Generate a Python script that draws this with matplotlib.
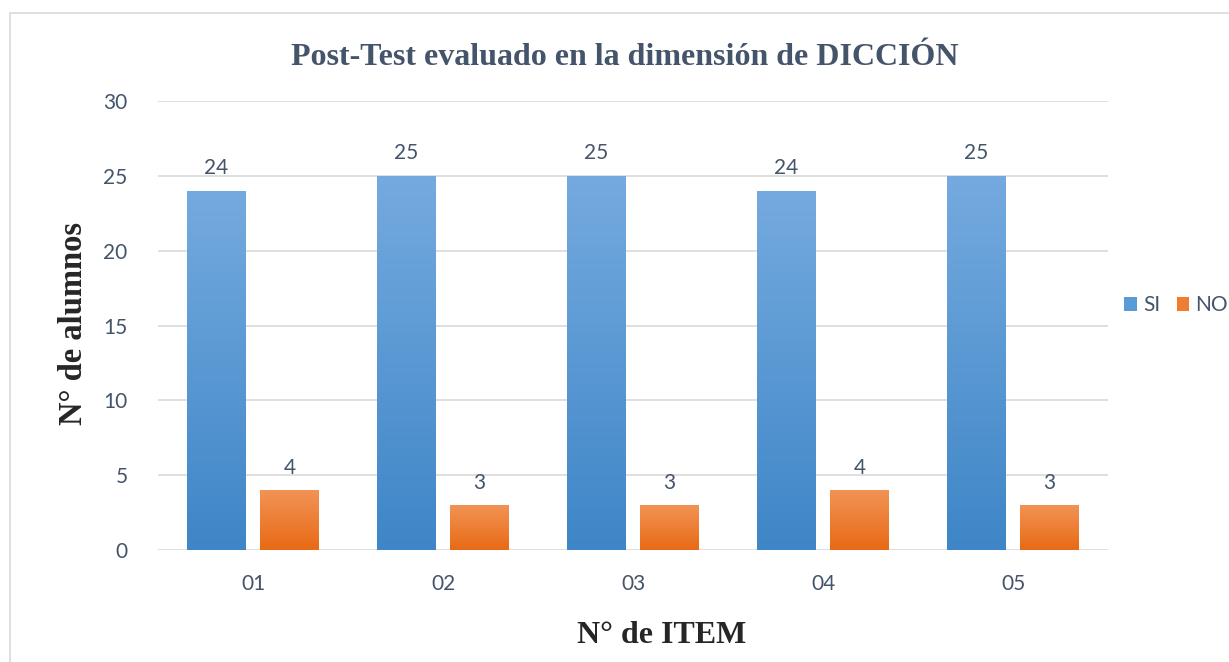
import numpy as np
import matplotlib.pyplot as plt
from matplotlib.colors import LinearSegmentedColormap
from matplotlib.patches import Rectangle

items = ['01', '02', '03', '04', '05']
si = [24, 25, 25, 24, 25]
no = [4, 3, 3, 4, 3]

text_col = '#44546A'
grid_col = '#D9D9D9'
blue_map = LinearSegmentedColormap.from_list('b', ['#3E86C7', '#75AADF'])
orange_map = LinearSegmentedColormap.from_list('o', ['#E86A15', '#F29355'])

plt.rcParams['font.family'] = ['Lato', 'DejaVu Sans']

fig = plt.figure(figsize=(12.29, 6.62), dpi=100)
ax = fig.add_axes([0.1286, 0.1692, 0.7730, 0.6782])

# thin border round the chart area
fig.patches.append(Rectangle((0.008, -0.01), 1.0, 0.99, transform=fig.transFigure,
                             fill=False, edgecolor='#D9D9D9', lw=1.2))

x = np.arange(len(items))
w = 0.31
off = 0.192


def grad_bars(xs, vals, cmap, col, label):
    bars = ax.bar(xs, vals, w, color=col, label=label, zorder=2)
    grad = np.linspace(0, 1, 256).reshape(-1, 1)
    for b in bars:
        im = ax.imshow(grad, cmap=cmap, origin='lower', aspect='auto',
                       extent=[b.get_x(), b.get_x() + b.get_width(), 0, b.get_height()],
                       zorder=3)
        im.set_clip_path(b)
    for xi, v in zip(xs, vals):
        ax.annotate(str(v), (xi, v), xytext=(0, 9), textcoords='offset points',
                    ha='center', va='bottom', fontsize=15, color=text_col)
    return bars


grad_bars(x - off, si, blue_map, '#5B9BD5', 'SI')
grad_bars(x + off, no, orange_map, '#ED7D31', 'NO')

ax.set_xlim(-0.5, 4.5)
ax.set_ylim(0, 30)
ax.set_yticks(range(0, 31, 5))
ax.set_xticks(x)
ax.set_xticklabels(items)
ax.tick_params(length=0, labelsize=15, colors=text_col)
ax.tick_params(axis='x', pad=17)
ax.tick_params(axis='y', pad=22)
ax.grid(axis='y', color=grid_col, lw=1.2, zorder=0)
ax.set_axisbelow(True)
for s in ax.spines.values():
    s.set_visible(False)

serif = ['Liberation Serif', 'DejaVu Serif']
ax.set_title('Post-Test evaluado en la dimensión de DICCIÓN', family=serif,
             fontsize=23, fontweight='bold', color=text_col, pad=26, x=0.491)
ax.set_xlabel('N° de ITEM', family=serif, fontsize=23, fontweight='bold',
              color='#262626', labelpad=20, x=0.53)
ax.set_ylabel('N° de alumnos', family=serif, fontsize=23.5, fontweight='bold',
              color='#262626', labelpad=10, y=0.505)

leg = ax.legend(loc='center left', bbox_to_anchor=(1.017, 0.545), frameon=False,
                ncol=2, fontsize=15, handlelength=0.6, handleheight=0.6,
                handletextpad=0.3, columnspacing=0.8, borderpad=0,
                borderaxespad=0, labelcolor=text_col)

fig.savefig('out.png', dpi=100)
